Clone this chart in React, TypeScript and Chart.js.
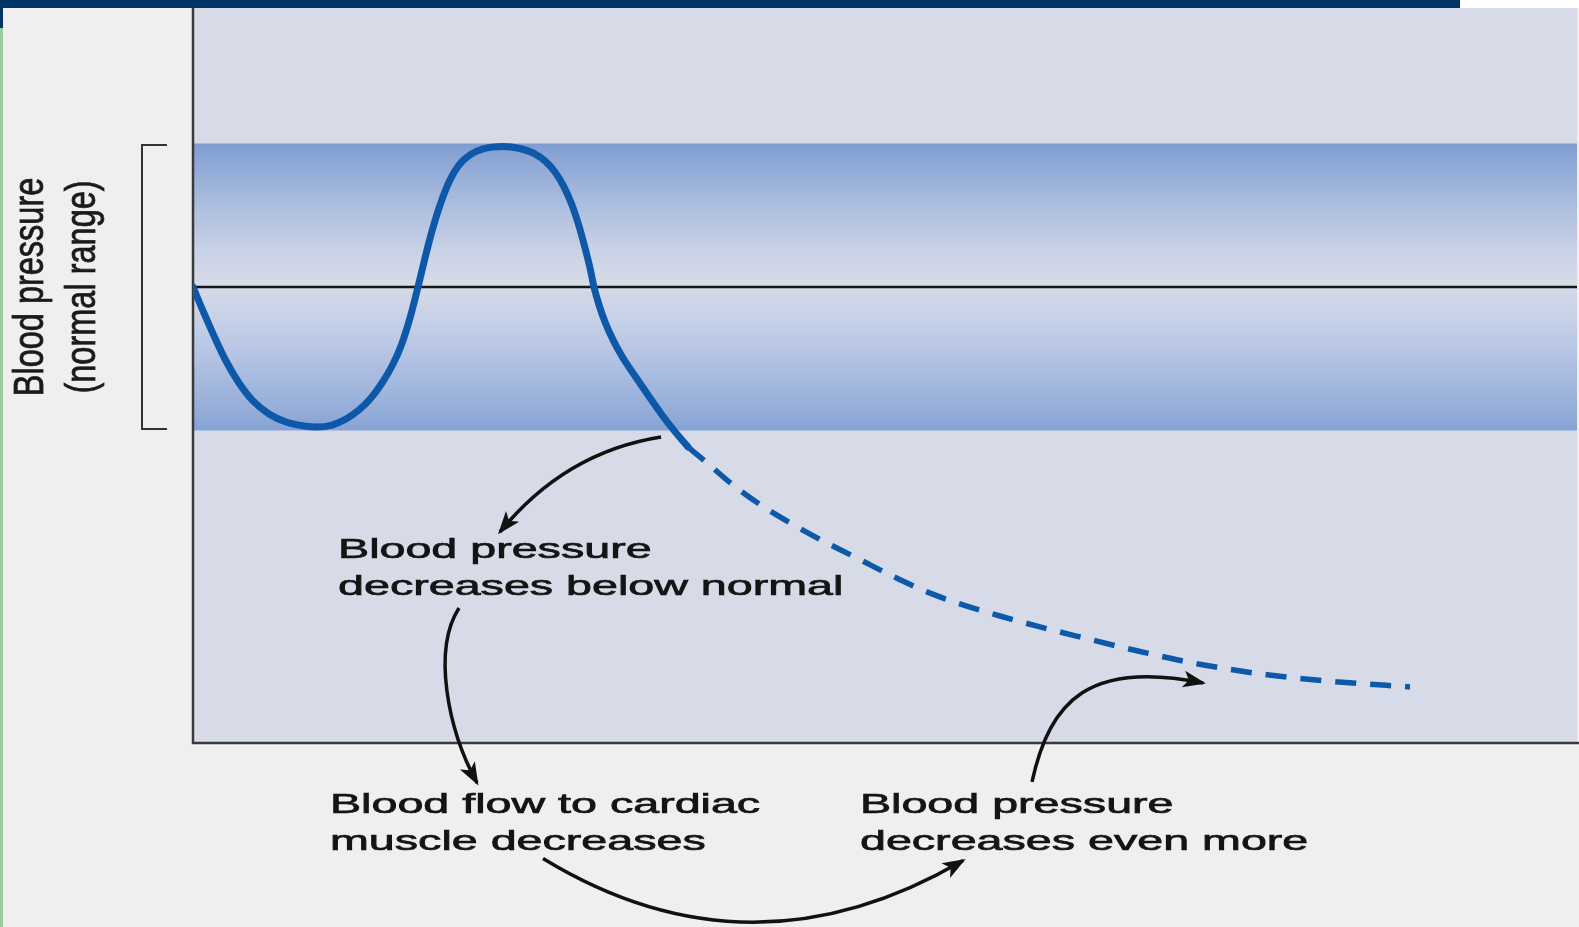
import React, { useEffect, useRef } from 'react';
import { Chart, registerables } from 'chart.js';

Chart.register(...registerables);

// ---- data (time in arbitrary units, pressure as deviation from the set point; normal range = ±1) ----
const solidTime = [0, 0.723, 1.517, 2.384, 3.324, 4.335, 5.491, 6.72, 8.02, 8.96, 10.043, 11.055, 11.994, 12.861, 13.656, 14.379, 15.029, 15.679, 16.257, 16.763, 17.269, 17.847, 18.497, 19.22, 20.014, 20.954, 22.399, 23.627, 24.566, 25.434, 26.156, 26.806, 27.384, 27.89, 28.324, 28.685, 28.974, 29.335, 29.769, 30.347, 31.069, 31.936, 32.876, 33.887, 34.899, 35.766];
const solidPressure = [0, -0.167, -0.341, -0.516, -0.669, -0.794, -0.885, -0.941, -0.969, -0.976, -0.962, -0.92, -0.857, -0.774, -0.669, -0.551, -0.411, -0.216, 0, 0.202, 0.39, 0.571, 0.732, 0.85, 0.92, 0.962, 0.979, 0.965, 0.934, 0.878, 0.801, 0.697, 0.571, 0.425, 0.272, 0.132, 0, -0.125, -0.244, -0.369, -0.495, -0.62, -0.753, -0.892, -1.017, -1.115];
const dashedTime = [35.766, 37.139, 39.017, 40.968, 43.28, 45.448, 47.832, 50.361, 53.035, 55.636, 58.309, 61.199, 64.09, 68.28, 72.616, 77.746, 82.803, 87.934];
const dashedPressure = [-1.115, -1.226, -1.38, -1.516, -1.652, -1.767, -1.882, -2.007, -2.125, -2.216, -2.293, -2.369, -2.439, -2.537, -2.627, -2.704, -2.753, -2.787];
const setPoint = 0;
const normalRange = [-1, 1];
const timeRange = [0, 100];
const pressureRange = [-3.178, 1.944];

const yLabelLines = ['Blood pressure', '(normal range)'];
const notes = [
  { lines: ['Blood pressure', 'decreases below normal'], t: 10.48, p: -1.889 },
  { lines: ['Blood flow to cardiac', 'muscle decreases'], t: 9.9, p: -3.666 },
  { lines: ['Blood pressure', 'decreases even more'], t: 48.19, p: -3.666 },
];
// curved arrows (bezier control points in data units)
const arrows: [number, number][][] = [
  [[33.82, -1.045], [26.88, -1.15], [22.18, -1.707]],
  [[19.22, -2.237], [17.27, -2.53], [18.42, -3.087], [20.52, -3.456]],
  [[25.29, -3.983], [40.25, -4.864], [55.64, -3.997]],
  [[60.62, -3.449], [61.92, -2.878], [64.81, -2.599], [72.98, -2.76]],
];
const bracketTime = [-3.685, -1.879];
const yLabelTime = [-10.84, -7.08];

const FONT = "'Liberation Sans', Arial, Helvetica, sans-serif";

const decorPlugin = {
  id: 'decor',
  beforeDraw(chart: any) {
    const { ctx, chartArea: a, width, height } = chart;
    ctx.save();
    ctx.fillStyle = '#efefef';
    ctx.fillRect(0, 0, width, height);
    ctx.fillStyle = '#d6dbe7';
    ctx.fillRect(a.left, a.top, a.right - a.left, a.bottom - a.top);
    ctx.restore();
  },
  beforeDatasetsDraw(chart: any) {
    const { ctx, chartArea: a, scales } = chart;
    const ys = scales.y;
    const yTop = ys.getPixelForValue(normalRange[1]);
    const yMid = ys.getPixelForValue(setPoint);
    const yBot = ys.getPixelForValue(normalRange[0]);
    ctx.save();
    let g = ctx.createLinearGradient(0, yTop, 0, yMid);
    g.addColorStop(0, '#7d9bcf');
    g.addColorStop(0.08, '#88a4d4');
    g.addColorStop(0.4, '#a9bbde');
    g.addColorStop(0.75, '#c9d2e6');
    g.addColorStop(1, '#d8dce8');
    ctx.fillStyle = g;
    ctx.fillRect(a.left, yTop, a.right - a.left, yMid - yTop);
    g = ctx.createLinearGradient(0, yMid, 0, yBot);
    g.addColorStop(0, '#d5d9e7');
    g.addColorStop(0.25, '#c5d0e8');
    g.addColorStop(0.55, '#aebfe1');
    g.addColorStop(0.88, '#93acd8');
    g.addColorStop(1, '#84a2d3');
    ctx.fillStyle = g;
    ctx.fillRect(a.left, yMid, a.right - a.left, yBot - yMid);
    // set point line
    ctx.strokeStyle = '#151515';
    ctx.lineWidth = 2.5;
    ctx.beginPath();
    ctx.moveTo(a.left, yMid);
    ctx.lineTo(a.right, yMid);
    ctx.stroke();
    // axes
    ctx.strokeStyle = '#3a3a3a';
    ctx.lineWidth = 2.5;
    ctx.beginPath();
    ctx.moveTo(a.left, 0);
    ctx.lineTo(a.left, a.bottom);
    ctx.lineTo(chart.width, a.bottom);
    ctx.stroke();
    ctx.restore();
  },
  afterDatasetsDraw(chart: any) {
    const { ctx, scales } = chart;
    const X = (t: number) => scales.x.getPixelForValue(t);
    const Y = (p: number) => scales.y.getPixelForValue(p);
    ctx.save();
    // bracket
    const bx0 = X(bracketTime[0]);
    const bx1 = X(bracketTime[1]);
    const bt = Y(normalRange[1]) + 1.5;
    const bb = Y(normalRange[0]) - 1.5;
    ctx.strokeStyle = '#333';
    ctx.lineWidth = 2;
    ctx.beginPath();
    ctx.moveTo(bx1, bt);
    ctx.lineTo(bx0, bt);
    ctx.lineTo(bx0, bb);
    ctx.lineTo(bx1, bb);
    ctx.stroke();
    // rotated y label
    ctx.fillStyle = '#1a1a1a';
    ctx.strokeStyle = '#1a1a1a';
    ctx.lineWidth = 0.6;
    ctx.font = `32.5px ${FONT}`;
    ctx.textAlign = 'center';
    ctx.textBaseline = 'alphabetic';
    yLabelLines.forEach((line, i) => {
      ctx.save();
      ctx.translate(X(yLabelTime[i]), Y(setPoint));
      ctx.rotate(-Math.PI / 2);
      ctx.scale(1, 1.32);
      ctx.fillText(line, 0, 0);
      ctx.strokeText(line, 0, 0);
      ctx.restore();
    });
    // notes
    ctx.font = `28px ${FONT}`;
    ctx.textAlign = 'left';
    ctx.fillStyle = '#141414';
    ctx.strokeStyle = '#141414';
    ctx.lineWidth = 0.7;
    notes.forEach((n) => {
      n.lines.forEach((line, i) => {
        ctx.save();
        ctx.translate(X(n.t), Y(n.p) + i * 37);
        ctx.scale(1.665, 1);
        ctx.fillText(line, 0, 0);
        ctx.strokeText(line, 0, 0);
        ctx.restore();
      });
    });
    // arrows
    ctx.strokeStyle = '#111';
    ctx.fillStyle = '#111';
    ctx.lineWidth = 3.5;
    arrows.forEach((ar) => {
      const pts = ar.map(([t, p]) => [X(t), Y(p)]);
      ctx.beginPath();
      ctx.moveTo(pts[0][0], pts[0][1]);
      if (pts.length === 3) ctx.quadraticCurveTo(pts[1][0], pts[1][1], pts[2][0], pts[2][1]);
      else ctx.bezierCurveTo(pts[1][0], pts[1][1], pts[2][0], pts[2][1], pts[3][0], pts[3][1]);
      ctx.stroke();
      const tip = pts[pts.length - 1];
      const prev = pts[pts.length - 2];
      const ang = Math.atan2(tip[1] - prev[1], tip[0] - prev[0]);
      const L = 20;
      const W = 8.5;
      ctx.beginPath();
      ctx.moveTo(tip[0] + Math.cos(ang) * 3, tip[1] + Math.sin(ang) * 3);
      ctx.lineTo(tip[0] - Math.cos(ang) * L - Math.sin(ang) * W, tip[1] - Math.sin(ang) * L + Math.cos(ang) * W);
      ctx.lineTo(tip[0] - Math.cos(ang) * L * 0.72, tip[1] - Math.sin(ang) * L * 0.72);
      ctx.lineTo(tip[0] - Math.cos(ang) * L + Math.sin(ang) * W, tip[1] - Math.sin(ang) * L - Math.cos(ang) * W);
      ctx.closePath();
      ctx.fill();
    });
    ctx.restore();
  },
};

export default function App() {
  const canvasRef = useRef<HTMLCanvasElement | null>(null);
  useEffect(() => {
    document.body.style.margin = '0';
    const canvas = canvasRef.current;
    if (!canvas) return;
    const chart = new Chart(canvas, {
      type: 'line',
      data: {
        datasets: [
          {
            label: 'Blood pressure',
            data: solidTime.map((t, i) => ({ x: t, y: solidPressure[i] })),
            borderColor: '#0d58a8',
            borderWidth: 7,
            pointRadius: 0,
            cubicInterpolationMode: 'monotone',
            borderCapStyle: 'round',
            borderJoinStyle: 'round',
            fill: false,
          },
          {
            label: 'Blood pressure (continued fall)',
            data: dashedTime.map((t, i) => ({ x: t, y: dashedPressure[i] })),
            borderColor: '#0d58a8',
            borderWidth: 5.5,
            borderDash: [21, 14],
            pointRadius: 0,
            cubicInterpolationMode: 'monotone',
            fill: false,
          },
        ],
      },
      options: {
        animation: false,
        responsive: true,
        maintainAspectRatio: false,
        layout: { padding: { left: 193, top: 8, right: 2, bottom: 184 } },
        plugins: { legend: { display: false }, tooltip: { enabled: false } },
        events: [],
        scales: {
          x: { type: 'linear', min: timeRange[0], max: timeRange[1], display: false },
          y: { type: 'linear', min: pressureRange[0], max: pressureRange[1], display: false },
        },
      },
      plugins: [decorPlugin],
    } as any);
    return () => chart.destroy();
  }, []);
  return (
    <div style={{ position: 'fixed', left: 0, top: 0, width: '100vw', height: '100vh', background: '#efefef', overflow: 'hidden' }}>
      <canvas ref={canvasRef} />
      <div style={{ position: 'absolute', left: 0, top: 0, width: 1460, height: 8, background: '#003366' }} />
      <div style={{ position: 'absolute', left: 1460, top: 0, right: 0, height: 8, background: '#ffffff' }} />
      <div style={{ position: 'absolute', left: 0, top: 8, width: 3, height: 20, background: '#003366' }} />
      <div style={{ position: 'absolute', left: 0, top: 28, width: 3, bottom: 0, background: '#99cc99' }} />
    </div>
  );
}
